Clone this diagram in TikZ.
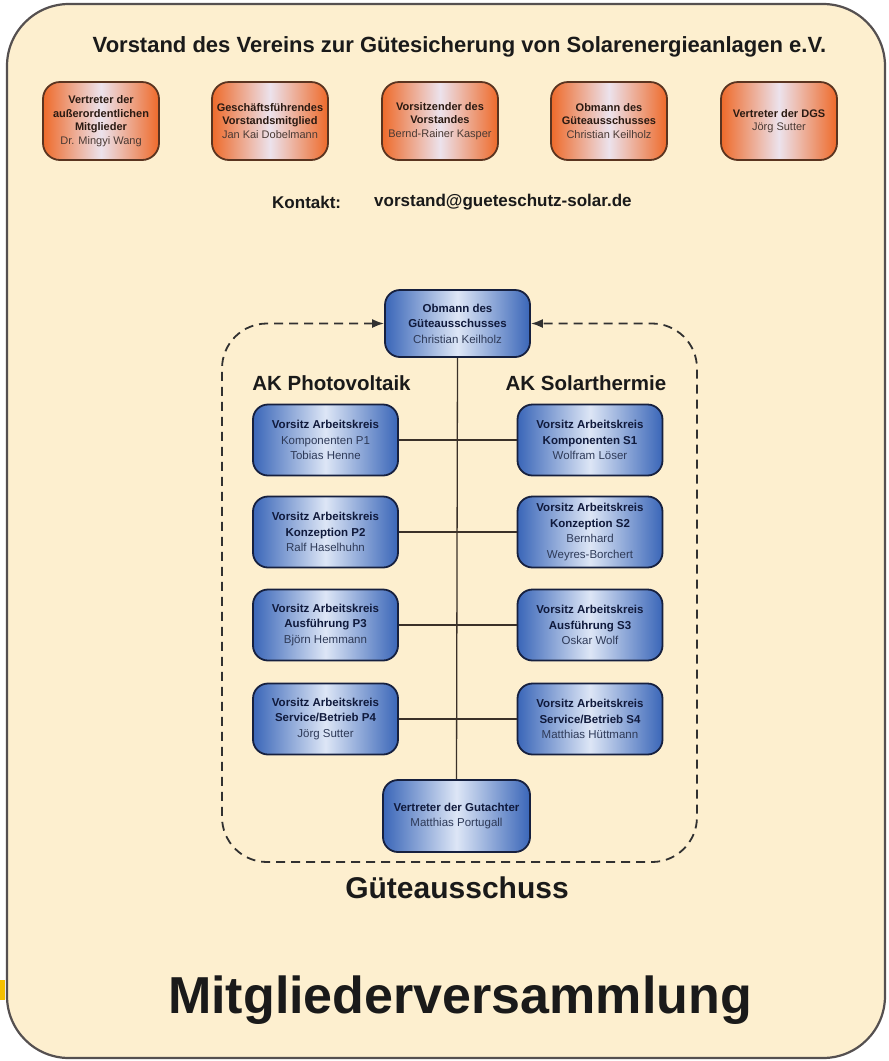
\documentclass[tikz,border=0pt]{standalone}
\usepackage{fontspec}
\setmainfont{Liberation Sans}
\usetikzlibrary{arrows.meta}
\definecolor{cream}{HTML}{FDEFCF}
\definecolor{framec}{HTML}{555050}
\definecolor{orA}{HTML}{EE6A2A}
\definecolor{orM}{HTML}{ECE2EC}
\definecolor{orB}{HTML}{5A3420}
\definecolor{blA}{HTML}{3A66B8}
\definecolor{blM}{HTML}{DDE6F6}
\definecolor{blB}{HTML}{16203F}
\definecolor{txtd}{HTML}{1A1A1A}
\definecolor{otxt}{HTML}{2A1A12}
\definecolor{oname}{HTML}{4A3A34}
\definecolor{btxt}{HTML}{101A3C}
\definecolor{bname}{HTML}{2E3A58}
\definecolor{connc}{HTML}{3A3028}
\definecolor{yellowmark}{HTML}{F5C000}
\tikzset{
  frame/.style={draw=framec,line width=2.2pt,fill=cream,rounded corners=62pt},
  obox/.style={draw=orB,line width=1.8pt,rounded corners=17pt,left color=orA,right color=orA,middle color=orM,
    minimum width=116pt,minimum height=78pt,align=center,inner sep=1pt,text=otxt,
    font=\fontsize{11}{13.5}\selectfont},
  bbox/.style={draw=blB,line width=1.8pt,rounded corners=15pt,left color=blA,right color=blA,middle color=blM,
    minimum width=145pt,minimum height=71pt,align=center,inner sep=2pt,text=btxt,
    font=\fontsize{11.5}{15.5}\selectfont},
  conn/.style={draw=connc,line width=1.3pt},
  dashframe/.style={draw=txtd!90,line width=1.8pt,dash pattern=on 9pt off 6pt,rounded corners=45pt},
  bigtitle/.style={font=\bfseries\fontsize{#1}{#1}\selectfont,text=txtd,inner sep=0pt}
}
\begin{document}
\begin{tikzpicture}[x=1pt,y=-1pt]
\useasboundingbox (0,0) rectangle (889,1061);
\fill[white] (0,0) rectangle (889,1061);
\fill[yellowmark] (0,980) rectangle (5,1000);
\draw[frame] (7,4) rectangle (885,1058);

\node[bigtitle=22] (title) at (459.5,47) {Vorstand des Vereins zur Gütesicherung von Solarenergieanlagen e.V.};

\node[obox] (o1) at (101,121) {\textbf{Vertreter der}\\\textbf{außerordentlichen}\\\textbf{Mitglieder}\\\textcolor{oname}{Dr. Mingyi Wang}};
\node[obox] (o2) at (270,121) {\textbf{Geschäftsführendes}\\\textbf{Vorstandsmitglied}\\\textcolor{oname}{Jan Kai Dobelmann}};
\node[obox] (o3) at (440,121) {\textbf{Vorsitzender des}\\\textbf{Vorstandes}\\\textcolor{oname}{Bernd-Rainer Kasper}};
\node[obox] (o4) at (609,121) {\textbf{Obmann des}\\\textbf{Güteausschusses}\\\textcolor{oname}{Christian Keilholz}};
\node[obox] (o5) at (779,121) {\textbf{Vertreter der DGS}\\\textcolor{oname}{Jörg Sutter}};

\node[bigtitle=17,anchor=west] (kontakt) at (272,202) {Kontakt:};
\node[bigtitle=17,anchor=west] (mail) at (374,202) {vorstand@gueteschutz-solar.de};

\node[bbox,minimum height=67pt] (obm) at (457.5,323.5) {\textbf{Obmann des}\\\textbf{Güteausschusses}\\\textcolor{bname}{Christian Keilholz}};

\node[bigtitle=20.5] (akp) at (331.5,383) {AK Photovoltaik};
\node[bigtitle=20.5] (aks) at (586,383) {AK Solarthermie};

\node[bbox] (p1) at (325.5,440) {\textbf{Vorsitz Arbeitskreis}\\\textcolor{bname}{Komponenten P1}\\\textcolor{bname}{Tobias Henne}};
\node[bbox] (s1) at (590,440) {\textbf{Vorsitz Arbeitskreis}\\\textbf{Komponenten S1}\\\textcolor{bname}{Wolfram Löser}};
\node[bbox] (p2) at (325.5,532) {\textbf{Vorsitz Arbeitskreis}\\\textbf{Konzeption P2}\\\textcolor{bname}{Ralf Haselhuhn}};
\node[bbox] (s2) at (590,532) {\textbf{Vorsitz Arbeitskreis}\\\textbf{Konzeption S2}\\\textcolor{bname}{Bernhard}\\\textcolor{bname}{Weyres-Borchert}};
\node[bbox] (p3) at (325.5,625) {\textbf{Vorsitz Arbeitskreis}\\\textbf{Ausführung P3}\\\textcolor{bname}{Björn Hemmann}};
\node[bbox] (s3) at (590,625) {\textbf{Vorsitz Arbeitskreis}\\\textbf{Ausführung S3}\\\textcolor{bname}{Oskar Wolf}};
\node[bbox] (p4) at (325.5,719) {\textbf{Vorsitz Arbeitskreis}\\\textbf{Service/Betrieb P4}\\\textcolor{bname}{Jörg Sutter}};
\node[bbox] (s4) at (590,719) {\textbf{Vorsitz Arbeitskreis}\\\textbf{Service/Betrieb S4}\\\textcolor{bname}{Matthias Hüttmann}};

\node[bbox,minimum width=147pt,minimum height=72pt] (gut) at (456.5,816) {\textbf{Vertreter der Gutachter}\\\textcolor{bname}{Matthias Portugall}};

\draw[conn] (obm.south) -- (gut.north);
\draw[conn] (p1.east) -- (s1.west);
\draw[conn] (p2.east) -- (s2.west);
\draw[conn] (p3.east) -- (s3.west);
\draw[conn] (p4.east) -- (s4.west);

\draw[dashframe,{Latex[length=12pt,width=9pt]}-{Latex[length=12pt,width=9pt]}] (obm.west) -- (222,323.5) -- (222,862) -- (697,862) -- (697,323.5) -- (obm.east);

\node[bigtitle=30] (gue) at (457,888) {Güteausschuss};
\node[bigtitle=52] (mv) at (460,1000) {Mitgliederversammlung};
\end{tikzpicture}
\end{document}
